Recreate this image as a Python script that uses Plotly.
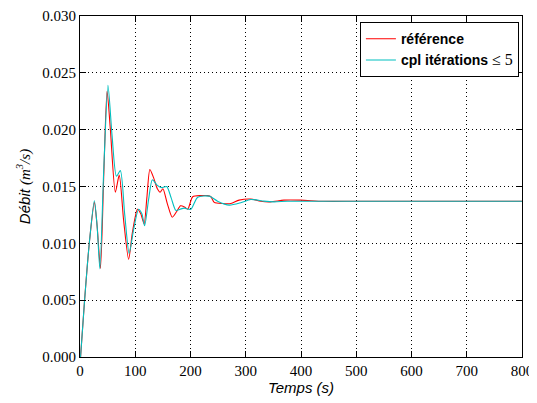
import plotly.graph_objects as go

ref_t = [1, 8, 17, 26, 31, 37, 43, 49, 55, 64, 71, 79, 88, 95, 104, 110, 116, 121, 126.5, 133, 140, 145, 150, 158, 167, 175, 182, 189, 195, 204, 219, 231, 237, 243, 258, 273, 288, 309, 327, 345, 369, 399, 440, 500, 560, 640, 720, 800]
ref_q = [0.0, 0.0048, 0.0101, 0.0136, 0.0115, 0.0078, 0.0160, 0.0234, 0.0200, 0.0145, 0.0160, 0.0120, 0.0086, 0.0110, 0.0130, 0.0126, 0.0117, 0.0140, 0.0165, 0.0158, 0.0148, 0.0145, 0.0148, 0.0135, 0.0123, 0.0128, 0.0133, 0.0132, 0.0130, 0.0141, 0.0142, 0.0142, 0.0141, 0.0136, 0.0135, 0.0135, 0.0138, 0.0139, 0.0137, 0.01365, 0.0138, 0.0138, 0.0137, 0.0137, 0.0137, 0.0137, 0.0137, 0.0137]

cpl_t = [1, 8, 17, 26, 31, 36, 43, 50.6, 58, 66, 73, 81, 89, 97, 106, 112, 117, 124, 131, 140, 148, 157, 165, 173.5, 181, 188.5, 200.6, 213, 234, 249, 270, 291, 309, 333, 351, 375, 420, 480, 560, 640, 720, 800]
cpl_q = [0.0, 0.0048, 0.0101, 0.01374, 0.0115, 0.00775, 0.0165, 0.0239, 0.0195, 0.0159, 0.0164, 0.0125, 0.0091, 0.0112, 0.0130, 0.0126, 0.01155, 0.0138, 0.0156, 0.0151, 0.0149, 0.0150, 0.0140, 0.0129, 0.0130, 0.0131, 0.0130, 0.01406, 0.01415, 0.01371, 0.01336, 0.01357, 0.01386, 0.01371, 0.01365, 0.0137, 0.0137, 0.0137, 0.0137, 0.0137, 0.0137, 0.0137]

x_ticks = [0, 100, 200, 300, 400, 500, 600, 700, 800]
y_ticks = [0.000, 0.005, 0.010, 0.015, 0.020, 0.025, 0.030]

SERIF = "Liberation Serif"
SANS = "Liberation Sans"

fig = go.Figure()
fig.add_trace(go.Scatter(x=ref_t, y=ref_q, mode="lines", name="<b>référence</b>",
                         line=dict(color="#ff0000", width=1.1, shape="spline", smoothing=0.7)))
fig.add_trace(go.Scatter(x=cpl_t, y=cpl_q, mode="lines",
                         name="<b>cpl itérations </b><span style='font-family:Liberation Serif;font-size:16px'>≤ 5</span>",
                         line=dict(color="#00bfbf", width=1.1, shape="spline", smoothing=0.7)))

axis_common = dict(showline=True, linecolor="black", linewidth=1, mirror="allticks",
                   ticks="inside", ticklen=6, tickcolor="black", tickwidth=1,
                   showgrid=True, gridcolor="black", griddash="1px,3px", gridwidth=1,
                   zeroline=False, automargin=False,
                   tickfont=dict(family=SERIF, size=15, color="black"))

fig.update_xaxes(range=[0, 800], tickvals=x_ticks, ticktext=[str(v) for v in x_ticks],
                 title=dict(text="<i>Temps (s)</i>", font=dict(family=SANS, size=15, color="black"), standoff=2),
                 **axis_common)
fig.update_yaxes(range=[0, 0.030], tickvals=y_ticks, ticktext=[f"{v:.3f}" for v in y_ticks],
                 title=dict(text="<i>Débit </i><span style='font-family:Liberation Serif'><i>(m<sup>3</sup>/s)</i></span>",
                            font=dict(family=SANS, size=15, color="black"), standoff=8),
                 **axis_common)

fig.update_layout(
    width=529, height=395,
    margin=dict(l=72, r=15, t=8, b=46),
    paper_bgcolor="white", plot_bgcolor="white",
    showlegend=True,
    legend=dict(x=0.993, y=0.982, xanchor="right", yanchor="top",
                bgcolor="white", bordercolor="black", borderwidth=1,
                font=dict(family=SANS, size=14, color="black"),
                tracegroupgap=0),
)

fig.write_html("out.html")
